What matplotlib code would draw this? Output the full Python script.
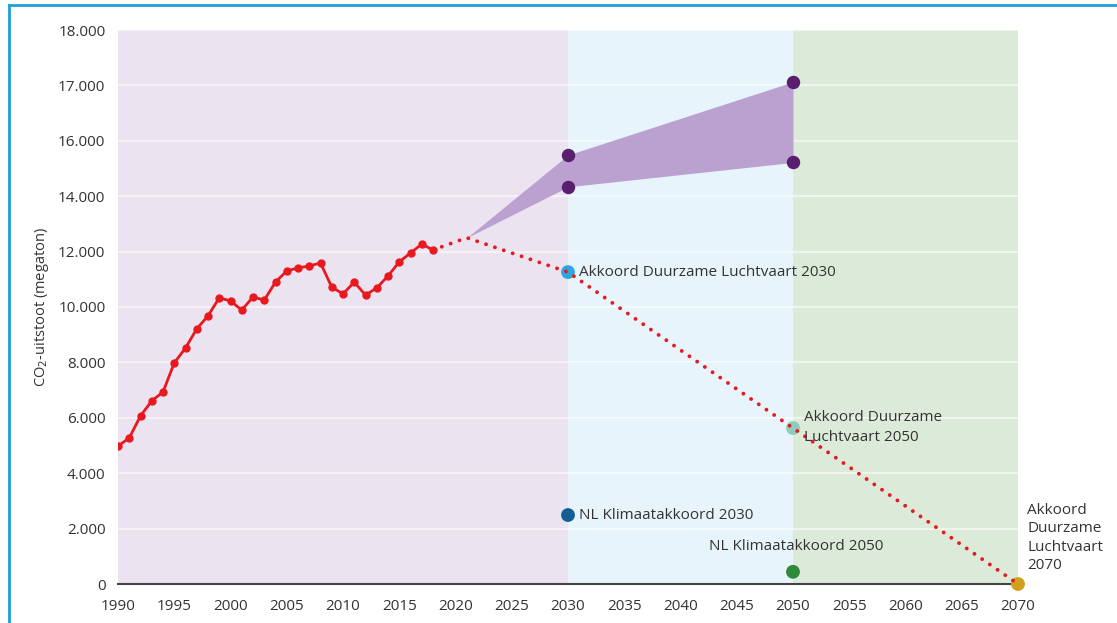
import matplotlib
matplotlib.use("Agg")
import matplotlib.pyplot as plt
from matplotlib.lines import Line2D

plt.rcParams['font.family'] = ['Open Sans', 'DejaVu Sans']

# historical emissions (axis units)
years = list(range(1990, 2019))
emissions = [4980, 5270, 6070, 6610, 6930, 7980, 8520, 9210, 9680, 10330,
             10220, 9890, 10360, 10250, 10900, 11300, 11410, 11480, 11590, 10720,
             10470, 10900, 10430, 10690, 11120, 11630, 11950, 12270, 12060]

# projected path towards 2070
proj_years = [2018, 2021, 2030, 2050, 2070]
proj_values = [12060, 12500, 11260, 5630, 0]

# growth band
band_years = [2021, 2030, 2050]
band_upper = [12500, 15490, 18130]
band_lower = [12500, 14340, 15220]

# targets
target_years = [2030, 2030, 2050, 2050, 2070]
target_values = [11260, 2490, 5630, 440, 0]
target_colors = ['#2aa8df', '#135f94', '#8ccdbd', '#2f8a3c', '#d2a01e']

# phases
phase_edges = [1990, 2030, 2050, 2070]
phase_colors = ['#ece3f0', '#e7f4fb', '#dcebd9']

ytick_pos = [0, 2000, 4000, 6000, 8000, 10000, 12000, 14000, 16000, 18000, 20000]
ytick_labels = ['0', '2.000', '4.000', '6.000', '8.000', '10.000', '12.000',
                '14.000', '16.000', '17.000', '18.000']
xticks = list(range(1990, 2071, 5))

fig = plt.figure(figsize=(11.17, 6.23), dpi=100)
ax = fig.add_axes([118 / 1117, 39 / 623, 900 / 1117, 554 / 623])

for i in range(len(phase_colors)):
    ax.axvspan(phase_edges[i], phase_edges[i + 1], color=phase_colors[i], lw=0, zorder=0)

for y in ytick_pos[1:]:
    ax.axhline(y, color='white', lw=1.2, alpha=0.6, zorder=1)

ax.fill_between(band_years, band_lower, band_upper, color='#bba1cf', lw=0, zorder=2)
ax.scatter([band_years[1]] * 2 + [band_years[2]] * 2,
           [band_upper[1], band_lower[1], band_upper[2], band_lower[2]],
           s=75, color='#5a1e6e', zorder=5)

ax.plot(years, emissions, color='#e8191e', lw=2, marker='o', ms=5, zorder=4)
ax.plot(proj_years, proj_values, color='#e8191e', lw=2.8, ls=(0, (0.01, 2.4)),
        zorder=4, dash_capstyle='round')

ax.scatter(target_years, target_values, s=80, c=target_colors, zorder=3, clip_on=False)

txt = dict(fontsize=11, color='#333333', zorder=6)
ax.text(2031, 11260, 'Akkoord Duurzame Luchtvaart 2030', va='center', ha='left', **txt)
ax.text(2031, 2490, 'NL Klimaatakkoord 2030', va='center', ha='left', **txt)
ax.text(2051, 5650, 'Akkoord Duurzame\nLuchtvaart 2050', va='center', ha='left',
        linespacing=1.45, **txt)
ax.text(2050.3, 1100, 'NL Klimaatakkoord 2050', va='bottom', ha='center', **txt)
ax.text(2070.8, 400, 'Akkoord\nDuurzame\nLuchtvaart\n2070', va='bottom', ha='left',
        linespacing=1.3, **txt)

ax.set_xlim(1990, 2070)
ax.set_ylim(0, 20000)
ax.set_xticks(xticks)
ax.set_yticks(ytick_pos)
ax.set_yticklabels(ytick_labels)
ax.tick_params(length=0, labelsize=11, labelcolor='#333333')
ax.tick_params(axis='y', pad=9)
ax.tick_params(axis='x', pad=11)
for s in ['top', 'right', 'left']:
    ax.spines[s].set_visible(False)
ax.spines['bottom'].set_color('#444444')
ax.spines['bottom'].set_linewidth(1.5)
ax.set_ylabel('CO$_2$-uitstoot (megaton)', fontsize=10.5, color='#333333', labelpad=5)

# blue frame around the figure
fig.add_artist(Line2D([9 / 1117, 1], [1 - 5 / 623, 1 - 5 / 623], color='#1ea0dc', lw=2,
                      transform=fig.transFigure))
fig.add_artist(Line2D([9 / 1117, 9 / 1117], [0, 1 - 5 / 623], color='#1ea0dc', lw=2,
                      transform=fig.transFigure))

fig.savefig('out.png', dpi=100)
